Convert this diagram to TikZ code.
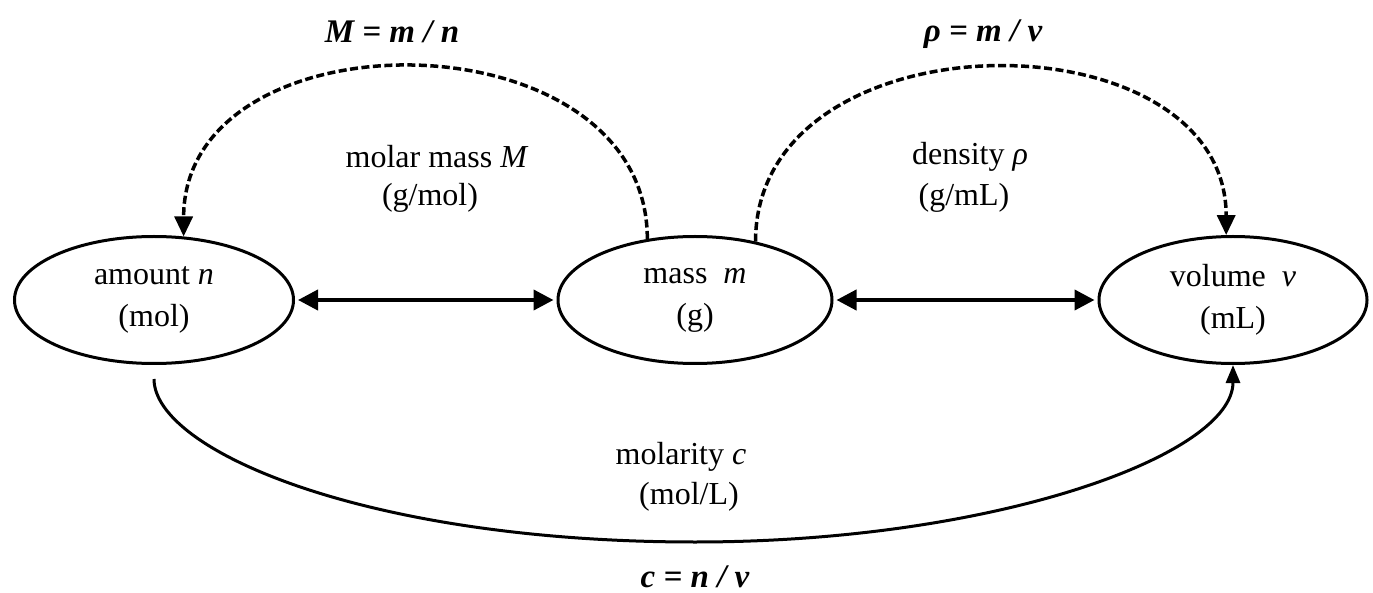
\documentclass[tikz,border=0pt]{standalone}
\usepackage{fontspec}
\setmainfont{Liberation Serif}
\usetikzlibrary{arrows.meta,shapes.geometric}
\begin{document}
\begin{tikzpicture}[x=1pt,y=-1pt,
  every node/.style={font=\fontsize{32}{42}\selectfont, inner sep=0pt},
  state/.style={ellipse,draw,line width=3pt,inner sep=0pt,align=center,minimum height=127pt},
  dbl/.style={line width=4pt,{Triangle[length=20pt,width=20pt]}-{Triangle[length=20pt,width=20pt]},shorten <=3pt,shorten >=3pt},
  dasharc/.style={line width=3.5pt,dash pattern=on 8pt off 3.5pt,-{Triangle[length=20pt,width=18pt]}},
  solidarc/.style={line width=3pt,-{Triangle[length=18pt,width=14pt]}},
  formula/.style={font=\fontsize{33}{40}\selectfont\bfseries\itshape}]
\useasboundingbox (0,0) rectangle (1373,593);
\fill[white] (0,0) rectangle (1373,593);

% states
\node[state,minimum width=279pt] (a) at (154,300) {amount \textit{n}\\(mol)};
\node[state,minimum width=274pt] (m) at (695,300) {mass \ \textit{m}\\(g)};
\node[state,minimum width=268pt] (v) at (1233,300) {volume \ \textit{v}\\(mL)};

% horizontal double arrows
\draw[dbl] (a) -- (m);
\draw[dbl] (m) -- (v);

% dashed arcs
\draw[dasharc] (m.128) .. controls +(0,-227) and +(0,-227) .. (a.65);
\draw[dasharc] (m.44) .. controls +(0,-230) and +(0,-224) .. (v.96);

% bottom arc
\coordinate (cb) at (695,542);
\draw[solidarc,shorten <=14pt] (a.south) .. controls +(0,85) and (365,542) .. (cb)
  .. controls +(300,0) and +(0,90) .. (v.south);

% labels
\node[formula] (f1) at (392,32) {M = m / n};
\node[formula] (f2) at (983,34) {ρ = m / v};
\node[formula,anchor=base,text depth=0pt] (f3) at (695,587) {c = n / v};

\node (l1) at (437,157) {molar mass \textit{M}};
\node (l1u) at (430,198) {(g/mol)};
\node (l2) at (970,157) {density \textit{ρ}};
\node (l2u) at (964,198) {(g/mL)};
\node (l3) at (681,457) {molarity \textit{c}};
\node (l3u) at (689,497) {(mol/L)};
\end{tikzpicture}
\end{document}
